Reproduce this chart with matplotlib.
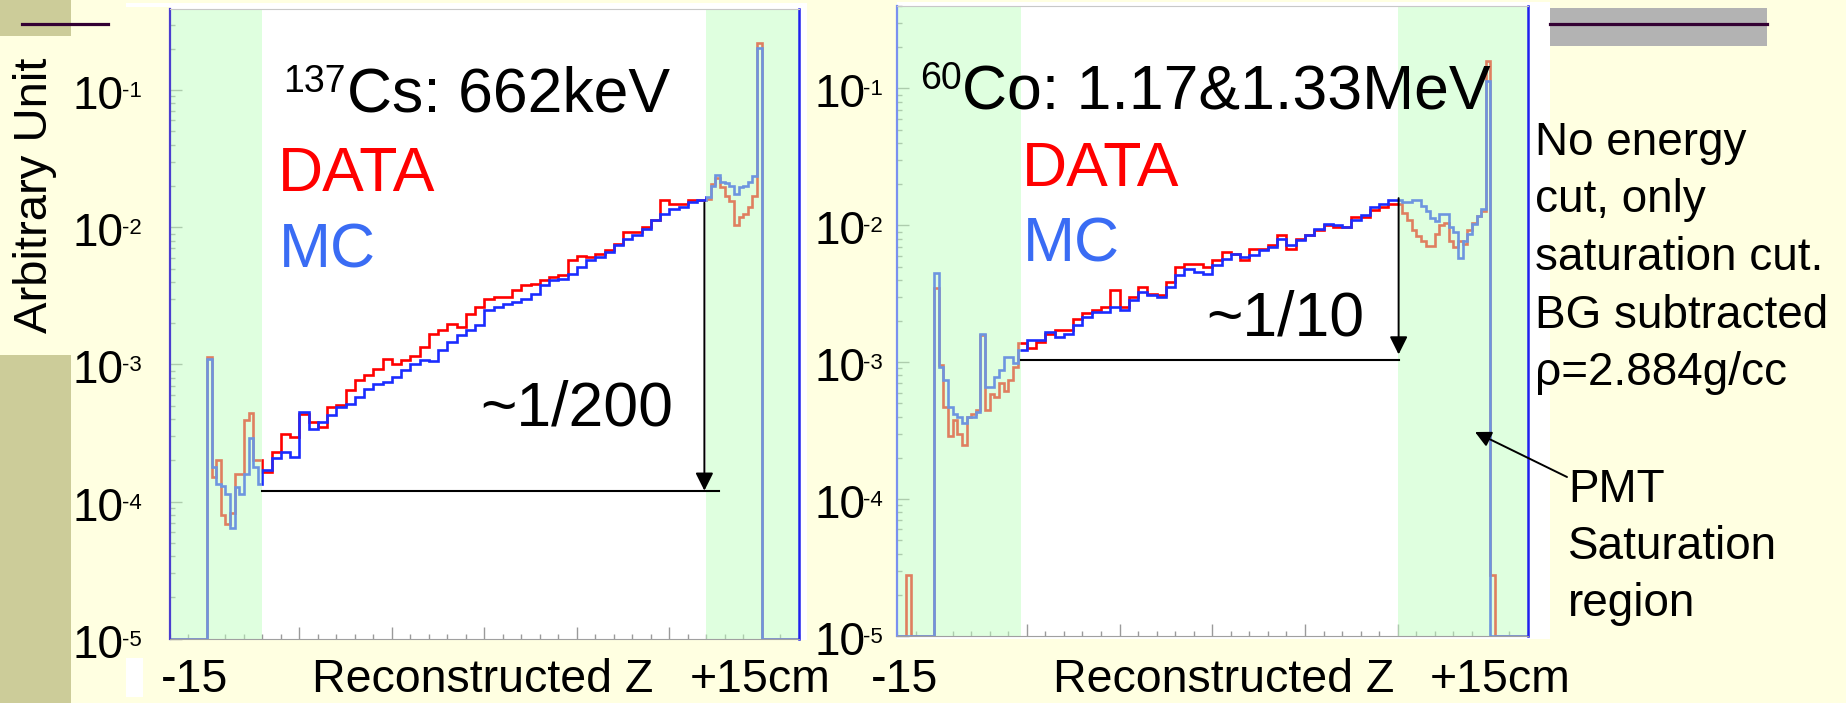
import numpy as np
import matplotlib
matplotlib.use("Agg")
import matplotlib.pyplot as plt
import matplotlib.transforms as mtransforms
from matplotlib.patches import Rectangle, FancyArrowPatch
from matplotlib.lines import Line2D
from matplotlib.ticker import MultipleLocator, LogLocator, NullFormatter

plt.rcParams['font.family'] = ['Liberation Sans', 'DejaVu Sans']

W, H = 1846, 703

# ---- 137Cs panel (reconstructed z in cm) ----
cs_edges = np.concatenate([[-17], np.arange(-15, -12, 0.25), np.arange(-12, 12, 0.5),
                           np.arange(12, 15.01, 0.25), [17]])
cs_data = [1e-5,
           1.14e-3, 1.5e-4, 2.0e-4, 8e-5, 6.9e-5, 8.2e-5, 1.6e-4, 1.6e-4, 3.9e-4, 4.4e-4, 2.0e-4, 2.0e-4,
           1.64e-4, 2.3e-4, 3.13e-4, 2.96e-4, 4.38e-4, 3.8e-4, 3.5e-4, 4.89e-4, 5.03e-4, 6.47e-4,
           7.65e-4, 8.32e-4, 9.31e-4, 1.10e-3, 1.01e-3, 1.07e-3, 1.16e-3, 1.34e-3, 1.67e-3, 1.77e-3,
           1.98e-3, 1.87e-3, 2.34e-3, 2.62e-3, 3.01e-3, 3.10e-3, 3.10e-3, 3.46e-3, 3.76e-3, 3.87e-3,
           4.09e-3, 4.33e-3, 4.45e-3, 5.73e-3, 6.22e-3, 6.05e-3, 6.40e-3, 6.77e-3, 7.57e-3, 9.21e-3,
           9.21e-3, 1.0e-2, 1.12e-2, 1.57e-2, 1.48e-2, 1.48e-2, 1.57e-2, 1.57e-2,
           1.6e-2, 2.07e-2, 2.3e-2, 1.96e-2, 1.7e-2, 1.56e-2, 1.03e-2, 1.18e-2, 1.25e-2, 1.4e-2, 1.7e-2, 0.222,
           1e-5]
cs_mc = [1e-5,
         1.1e-3, 1.8e-4, 1.35e-4, 1.3e-4, 1.14e-4, 6.4e-5, 1.28e-4, 1.14e-4, 1.6e-4, 2.9e-4, 1.8e-4, 1.35e-4,
         1.7e-4, 2.06e-4, 2.3e-4, 2.12e-4, 4.5e-4, 3.4e-4, 3.8e-4, 4.25e-4, 4.89e-4, 5.17e-4,
         5.78e-4, 6.65e-4, 7.23e-4, 7.45e-4, 8.09e-4, 9.05e-4, 1.01e-3, 1.07e-3, 1.06e-3, 1.27e-3,
         1.46e-3, 1.63e-3, 1.77e-3, 1.95e-3, 2.48e-3, 2.62e-3, 2.77e-3, 2.85e-3, 3.01e-3, 3.27e-3,
         3.76e-3, 4.09e-3, 4.21e-3, 4.58e-3, 5.12e-3, 5.73e-3, 6.05e-3, 6.58e-3, 7.36e-3, 8.24e-3,
         8.71e-3, 9.73e-3, 1.12e-2, 1.25e-2, 1.36e-2, 1.40e-2, 1.52e-2, 1.57e-2,
         1.65e-2, 2.0e-2, 2.42e-2, 2.13e-2, 2.09e-2, 2.0e-2, 1.75e-2, 1.96e-2, 2.0e-2, 2.13e-2, 2.37e-2, 0.204,
         1e-5]
cs_bands = [(-17, -12), (12, 17)]
cs_ratio = (1.51e-2, 1.2e-4)      # arrow top / reference level
cs_ratio_x = 11.9
cs_line_x = (-12, 12.7)

# ---- 60Co panel ----
co_edges = np.concatenate([[-17, -16.5, -16.25], np.arange(-15, -10.5, 0.25), np.arange(-10.5, 10, 0.5),
                           np.arange(10, 15.01, 0.25), [15.25, 17]])
co_data = [1e-5, 2.8e-5, 1e-5,
           3.5e-3, 9.5e-4, 4.7e-4, 2.9e-4, 3.8e-4, 3.0e-4, 2.5e-4, 4.0e-4, 4.2e-4, 4.5e-4,
           1.57e-3, 4.5e-4, 5.9e-4, 5.6e-4, 7.0e-4, 6.2e-4, 7.4e-4, 9.2e-4,
           1.37e-3, 1.26e-3, 1.41e-3, 1.62e-3, 1.71e-3, 1.71e-3, 2.08e-3, 2.27e-3, 2.40e-3, 2.53e-3,
           3.35e-3, 2.53e-3, 3.00e-3, 3.55e-3, 3.17e-3, 3.08e-3, 3.86e-3, 4.96e-3, 5.25e-3, 5.25e-3,
           4.96e-3, 5.55e-3, 6.39e-3, 6.21e-3, 5.55e-3, 6.76e-3, 6.76e-3, 7.15e-3, 8.46e-3, 6.76e-3,
           8.00e-3, 8.46e-3, 9.20e-3, 1.00e-2, 9.72e-3, 9.72e-3, 1.15e-2, 1.15e-2, 1.29e-2, 1.36e-2, 1.44e-2,
           1.43e-2, 1.23e-2, 1.1e-2, 9.2e-3, 8.4e-3, 7.7e-3, 7.1e-3, 7.1e-3, 8.7e-3, 1.0e-2,
           1.04e-2, 7.7e-3, 6.9e-3, 7.7e-3, 7.3e-3, 9.2e-3, 1.04e-2, 1.16e-2, 1.27e-2, 0.158,
           2.8e-5, 1e-5]
co_mc = [1e-5, 1e-5, 1e-5,
         4.5e-3, 9.2e-4, 7.4e-4, 4.7e-4, 4.2e-4, 4.0e-4, 3.6e-4, 4.0e-4, 4.0e-4, 4.3e-4,
         1.6e-3, 6.6e-4, 6.6e-4, 7.8e-4, 8.7e-4, 1.09e-3, 1.09e-3, 9.8e-4,
         1.22e-3, 1.45e-3, 1.45e-3, 1.66e-3, 1.53e-3, 1.62e-3, 1.86e-3, 2.14e-3, 2.33e-3, 2.33e-3,
         2.53e-3, 2.40e-3, 2.84e-3, 3.26e-3, 3.08e-3, 3.00e-3, 3.55e-3, 4.32e-3, 4.83e-3, 4.56e-3,
         4.44e-3, 5.10e-3, 5.71e-3, 6.21e-3, 5.87e-3, 6.04e-3, 6.57e-3, 6.95e-3, 8.00e-3, 7.15e-3,
         7.78e-3, 8.46e-3, 9.46e-3, 1.02e-2, 1.00e-2, 9.72e-3, 1.09e-2, 1.18e-2, 1.36e-2, 1.44e-2, 1.54e-2,
         1.52e-2, 1.49e-2, 1.49e-2, 1.52e-2, 1.52e-2, 1.39e-2, 1.27e-2, 1.13e-2, 1.07e-2, 1.2e-2,
         1.2e-2, 9.8e-3, 8.95e-3, 5.8e-3, 7.7e-3, 8.7e-3, 1.03e-2, 1.16e-2, 1.31e-2, 0.114,
         1e-5, 1e-5]
co_bands = [(-17, -10.3), (10.0, 17)]
co_ratio = (1.58e-2, 1.14e-3)
co_ratio_line = 1.03e-3
co_ratio_x = 10.05
co_line_x = (-10.3, 10.05)

decades = [-1, -2, -3, -4, -5]

BG = '#ffffe1'
OLIVE = '#cccc99'
DARK = '#330033'
RED = '#ff0000'
BLUE = '#1a2cff'
MC_TEXT = '#3a6cf4'
BAND = '#c1ffc1'


def fx(px):
    return px / W


def fy(py):
    return 1 - py / H


def add_rect(fig, x0, y0, x1, y1, color, z=-1):
    fig.add_artist(Rectangle((fx(x0), fy(y1)), (x1 - x0) / W, (y1 - y0) / H,
                             transform=fig.transFigure, facecolor=color,
                             edgecolor='none', zorder=z))


def put(fig, x, y, s, size, color='black', **kw):
    fig.text(fx(x), fy(y), s, fontsize=size, color=color, ha=kw.pop('ha', 'left'),
             va=kw.pop('va', 'baseline'), **kw)


def panel(fig, rect, top, edges, data, mc, bands, left_spine):
    ax = fig.add_axes(rect)
    ax.set_facecolor('white')
    ax.set_yscale('log')
    ax.set_xlim(-17, 17)
    ax.set_ylim(1e-5, top)
    ax.stairs(data, edges, baseline=None, color=RED, lw=1.9, zorder=2)
    ax.stairs(mc, edges, baseline=None, color=BLUE, lw=1.9, zorder=2.1)
    for a, b in bands:
        ax.axvspan(a, b, color=BAND, alpha=0.5, lw=0, zorder=3)
    ax.xaxis.set_major_locator(MultipleLocator(5))
    ax.xaxis.set_minor_locator(MultipleLocator(1))
    ax.yaxis.set_minor_locator(LogLocator(base=10, subs=np.arange(2, 10), numticks=20))
    ax.yaxis.set_minor_formatter(NullFormatter())
    ax.tick_params(which='both', direction='in', colors='#9a9a9a', width=1,
                   top=False, right=False, labelbottom=False, labelleft=False)
    ax.tick_params(which='major', length=8.5)
    ax.tick_params(which='minor', length=3.8)
    ax.spines['left'].set_color(left_spine)
    ax.spines['left'].set_linewidth(1.6)
    ax.spines['right'].set_color('#2020ee')
    ax.spines['right'].set_linewidth(1.8)
    ax.spines['top'].set_color('#c8c8c8')
    ax.spines['bottom'].set_color('#a0a0a0')
    for sp in ax.spines.values():
        sp.set_zorder(4)
    return ax


def ratio_marks(ax, x, top, bottom, line_y, line_x):
    ax.plot(line_x, [line_y, line_y], color='black', lw=1.5, zorder=5)
    ax.annotate('', xy=(x, bottom), xytext=(x, top),
                arrowprops=dict(arrowstyle='-|>,head_length=0.4,head_width=0.2',
                                mutation_scale=27, color='black', lw=1.4,
                                shrinkA=0, shrinkB=0), zorder=5)


def decade_labels(fig, ax, x_right):
    trans = mtransforms.blended_transform_factory(fig.transFigure, ax.transData)
    base = mtransforms.offset_copy(trans, fig=fig, y=-19, units='dots')
    sup = mtransforms.offset_copy(trans, fig=fig, y=-7, units='dots')
    for d in decades:
        fig.text(fx(x_right + 2), 10.0 ** d, '10', transform=base, fontsize=33,
                 ha='right', va='baseline')
        fig.text(fx(x_right), 10.0 ** d, '-%d' % (-d), transform=sup, fontsize=16,
                 ha='left', va='baseline')


fig = plt.figure(figsize=(W / 100, H / 100), dpi=100)
fig.patch.set_facecolor(BG)

# slide decorations
add_rect(fig, 0, 0, 71, 36, OLIVE)
add_rect(fig, 0, 355, 71, 703, OLIVE)
add_rect(fig, 126, 3, 170, 7, 'white')
add_rect(fig, 170, 3, 807, 640, 'white')
add_rect(fig, 897, 2, 1550, 639, 'white')
add_rect(fig, 126, 658, 143, 697, 'white')
add_rect(fig, 1550, 8, 1767, 46, '#b3b3b3')
for x0, x1 in [(22, 108), (1550, 1767)]:
    fig.add_artist(Line2D([fx(x0), fx(x1)], [fy(24), fy(24)], transform=fig.transFigure,
                          color=DARK, lw=2.3, zorder=1))

ax1 = panel(fig, [fx(170), fy(638.7), (798.7 - 170) / W, (638.7 - 9) / H], 0.39,
            cs_edges, cs_data, cs_mc, cs_bands, '#4a3ed0')
ax2 = panel(fig, [fx(897), fy(636), (1527.5 - 897) / W, (636 - 6) / H], 0.40,
            co_edges, co_data, co_mc, co_bands, '#7a90f0')

ratio_marks(ax1, cs_ratio_x, cs_ratio[0], cs_ratio[1], cs_ratio[1], cs_line_x)
ratio_marks(ax2, co_ratio_x, co_ratio[0], co_ratio[1], co_ratio_line, co_line_x)

decade_labels(fig, ax1, 122)
decade_labels(fig, ax2, 863)

put(fig, 35, 195, 'Arbitrary Unit', 34, rotation=90, ha='center', va='center')

# panel titles and legends
put(fig, 283, 92, '137', 27)
put(fig, 347, 112, 'Cs: 662keV', 45)
put(fig, 278, 191, 'DATA', 45, RED)
put(fig, 279, 267, 'MC', 45, MC_TEXT)
put(fig, 480, 426, '~1/200', 45)

put(fig, 920, 89, '60', 27)
put(fig, 962, 110, 'Co: 1.17&1.33MeV', 45)
put(fig, 1022, 186, 'DATA', 45, RED)
put(fig, 1023, 262, 'MC', 45, MC_TEXT)
put(fig, 1206, 336, '~1/10', 45)

# axis captions (kept inside the bottom edge)
for x, s in [(161, '-15'), (312, 'Reconstructed Z'), (690, '+15cm'),
             (871, '-15'), (1053, 'Reconstructed Z'), (1430, '+15cm')]:
    put(fig, x, 702, s, 33.5, va='bottom')

# side notes
notes = ['No energy', 'cut, only', 'saturation cut.', 'BG subtracted', '\u03c1=2.884g/cc']
for i, s in enumerate(notes):
    put(fig, 1535, 155 + 57.5 * i, s, 33)
for i, s in enumerate(['PMT', 'Saturation', 'region']):
    put(fig, 1568, 502 + 57 * i, s, 33)
fig.add_artist(FancyArrowPatch((fx(1567), fy(477)), (fx(1475), fy(432)),
                               transform=fig.transFigure,
                               arrowstyle='-|>,head_length=0.4,head_width=0.2',
                               mutation_scale=24, color='black', lw=1.4,
                               shrinkA=0, shrinkB=0, zorder=5))

fig.savefig('out.png', dpi=100, facecolor=BG)
